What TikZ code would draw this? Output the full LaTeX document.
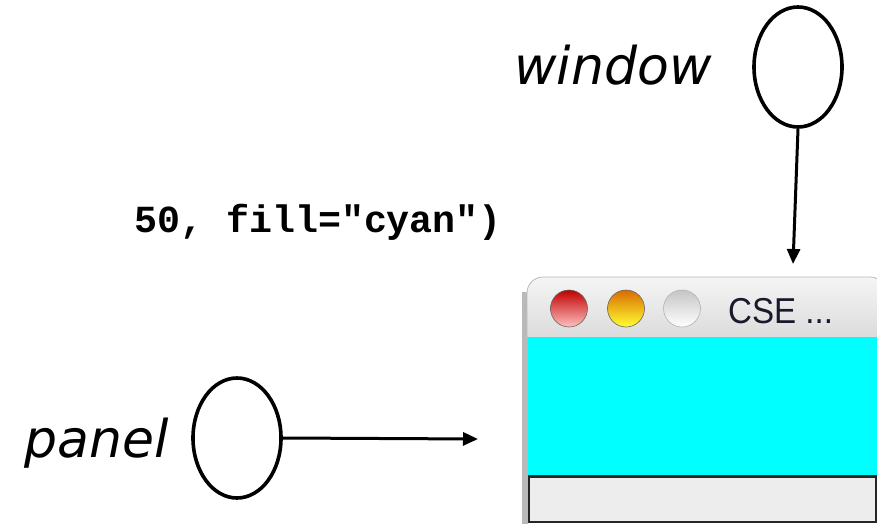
\documentclass[tikz,border=0pt]{standalone}
\usepackage{fontspec}
\setmainfont{DejaVu Sans}
\newfontfamily\labelfont{DejaVu Sans}
\newfontfamily\codefont{Liberation Mono}
\newfontfamily\titlefont{Liberation Sans}
\usetikzlibrary{arrows.meta,shapes.geometric,shadings}
\definecolor{pcyan}{RGB}{0,255,255}
\definecolor{titletext}{RGB}{25,25,45}
\begin{document}
\begin{tikzpicture}[x=1pt,y=-1pt,
  lbl/.style={anchor=base west,inner sep=0pt,font=\labelfont\itshape\fontsize{52}{52}\selectfont},
  code/.style={anchor=base west,inner sep=0pt,font=\codefont\bfseries\fontsize{38.3}{38}\selectfont},
  refoval/.style={draw,ellipse,line width=3.6pt,minimum width=88pt,minimum height=120pt,inner sep=0pt},
  ptr/.style={line width=3pt,-{Triangle[length=15pt,width=13pt]}},
  btn/.style={draw=black!60,line width=0.6pt}]
\useasboundingbox (0,0) rectangle (877,524);
\clip (0,0) rectangle (877,524);
\fill[white] (0,0) rectangle (877,524);
% window frame
\fill[gray!55] (522,292) rectangle (528,524);
\shade[top color=gray!8,bottom color=gray!28,draw=gray!55,line width=0.8pt,rounded corners=16pt]
  (527,338) -- (527,277) -- (886,277) -- (886,338);
\draw[gray!60,line width=1pt] (527,337.5) -- (877,337.5);
\fill[pcyan] (528,338) rectangle (877,475);
\draw[black!80,line width=0.8pt] (528,475) -- (877,475);
\fill[gray!14,draw=black!85,line width=1.4pt] (529,477) rectangle (876,522);
% buttons
\shade[top color=red!75!black,bottom color=red!25,btn] (569,308.5) circle[radius=18.5];
\shade[top color=orange!85!black,bottom color=yellow!80,btn] (626,308.5) circle[radius=18.5];
\shade[top color=gray!45,bottom color=white,draw=gray!60,line width=0.6pt] (682,308.5) circle[radius=18.5];
\node[anchor=base west,inner sep=0pt,text=titletext,xscale=0.92,font=\titlefont\fontsize{36}{36}\selectfont] (title) at (728,323) {CSE ...};
% labels
\node[lbl] (wlabel) at (514,85) {window};
\node[lbl] (plabel) at (24,457) {panel};
\node[code] (codetxt) at (134,232) {50, fill="cyan")};
% reference ovals
\node[refoval] (wref) at (798,67) {};
\node[refoval] (pref) at (237,438) {};
\coordinate (wtip) at (793,264);
\coordinate (ptip) at (478,439);
\draw[ptr] (wref.south) -- (wtip);
\draw[ptr] (pref.east) -- (ptip);
\end{tikzpicture}
\end{document}
